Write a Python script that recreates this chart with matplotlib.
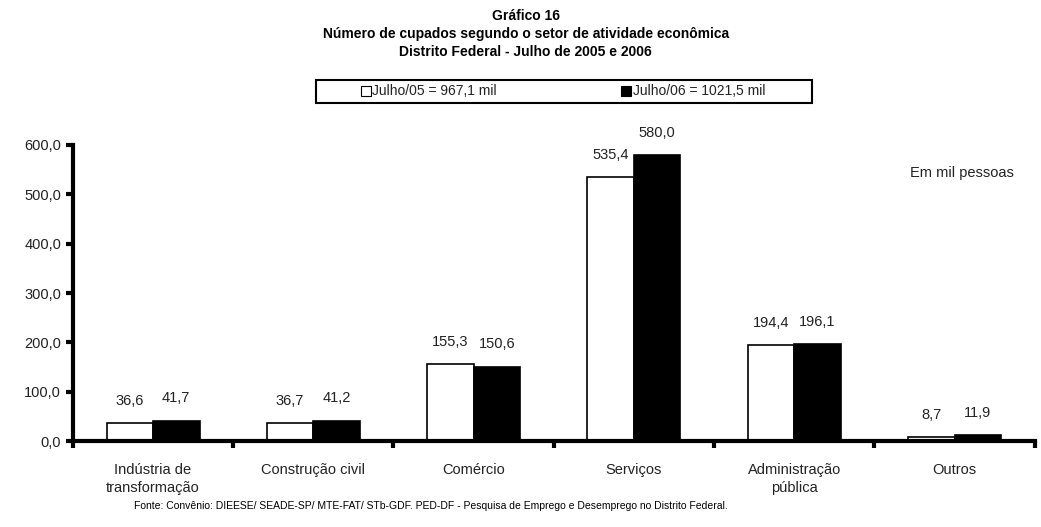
import matplotlib
matplotlib.use("Agg")
from matplotlib import pyplot as plt
from matplotlib.patches import Rectangle
import numpy as np

plt.rcParams["font.family"] = ["Liberation Sans", "DejaVu Sans"]

categories = ["Indústria de\ntransformação", "Construção civil", "Comércio",
              "Serviços", "Administração\npública", "Outros"]
jul05 = [36.6, 36.7, 155.3, 535.4, 194.4, 8.7]
jul06 = [41.7, 41.2, 150.6, 580.0, 196.1, 11.9]
legend_labels = ["Julho/05 = 967,1 mil", "Julho/06 = 1021,5 mil"]
yticks = [0, 100, 200, 300, 400, 500, 600]


def fmt(v):
    return f"{v:.1f}".replace(".", ",")


fig = plt.figure(figsize=(10.41, 5.27), dpi=100)
ax = fig.add_axes([0.070, 0.163, 0.924, 0.562])

x = np.arange(len(categories))
w = 0.29
b1 = ax.bar(x - w / 2, jul05, w, color="white", edgecolor="black", linewidth=1.2)
b2 = ax.bar(x + w / 2, jul06, w, color="black", edgecolor="black", linewidth=1.2)

for rect, v in zip(list(b1) + list(b2), jul05 + jul06):
    ax.annotate(fmt(v), (rect.get_x() + rect.get_width() / 2, v),
                xytext=(0, 11), textcoords="offset points",
                ha="center", va="bottom", fontsize=10.5, color="#222222")

ax.set_xlim(-0.5, len(categories) - 0.5)
ax.set_ylim(0, 600)
ax.set_yticks(yticks)
ax.set_yticklabels([fmt(v) for v in yticks], fontsize=10.5, color="#222222")

# category boundary ticks on x axis
ax.set_xticks(np.arange(-0.5, len(categories) + 0.5, 1.0))
ax.set_xticklabels([])
ax.tick_params(axis="both", direction="out", length=5, width=3, color="black")
for i, c in enumerate(categories):
    ax.text(i, -0.075, c, transform=ax.get_xaxis_transform(), ha="center", va="top",
            fontsize=10.5, linespacing=1.35, color="#222222")

for side in ["top", "right"]:
    ax.spines[side].set_visible(False)
ax.spines["left"].set_linewidth(3)
ax.spines["bottom"].set_linewidth(3)

fig.text(0.505, 0.982, "Gráfico 16\nNúmero de cupados segundo o setor de atividade econômica\n"
         "Distrito Federal - Julho de 2005 e 2006",
         ha="center", va="top", fontsize=10, fontweight="bold", linespacing=1.35)

# legend box
fig.patches.append(Rectangle((0.304, 0.805), 0.476, 0.044, transform=fig.transFigure,
                             facecolor="white", edgecolor="black", linewidth=1.5))
fig.patches.append(Rectangle((0.347, 0.818), 0.009, 0.018, transform=fig.transFigure,
                             facecolor="white", edgecolor="black", linewidth=0.8))
fig.text(0.357, 0.827, legend_labels[0], ha="left", va="center", fontsize=10, color="#222222")
fig.patches.append(Rectangle((0.597, 0.818), 0.009, 0.018, transform=fig.transFigure,
                             facecolor="black", edgecolor="black", linewidth=0.8))
fig.text(0.608, 0.827, legend_labels[1], ha="left", va="center", fontsize=10, color="#222222")

fig.text(0.874, 0.672, "Em mil pessoas", ha="left", va="center", fontsize=10.5, color="#222222")

fig.text(0.129, 0.040, "Fonte: Convênio: DIEESE/ SEADE-SP/ MTE-FAT/ STb-GDF. PED-DF - Pesquisa de Emprego "
         "e Desemprego no Distrito Federal.", ha="left", va="center", fontsize=7.5)

fig.savefig("out.png", dpi=100)
